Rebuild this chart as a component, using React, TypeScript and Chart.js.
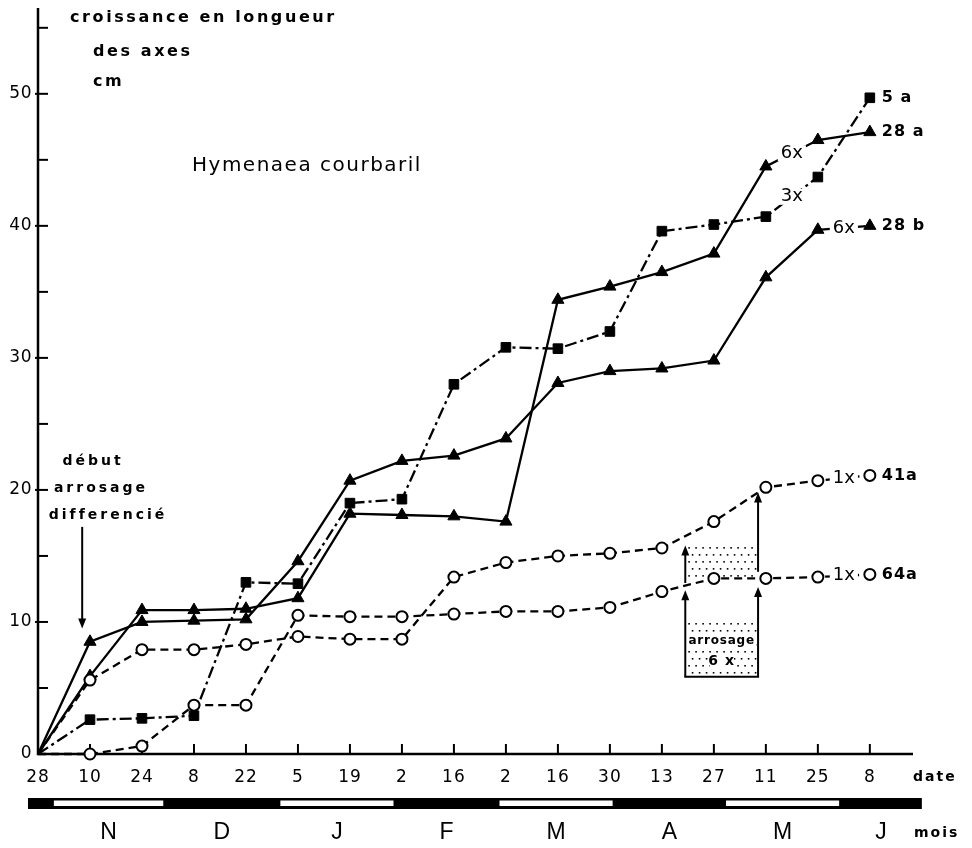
import React, { useEffect, useRef } from 'react';
import { Chart, registerables } from 'chart.js';

Chart.register(...registerables);

// ---------- data ----------
const dateLabels = ['28', '10', '24', '8', '22', '5', '19', '2', '16', '2', '16', '30', '13', '27', '11', '25', '8'];
const yTickValues = [0, 5, 10, 15, 20, 25, 30, 35, 40, 45, 50, 55];
const yLabelValues = [0, 10, 20, 30, 40, 50];

const series5a = [0, 2.6, 2.7, 2.9, 13.0, 12.9, 19.0, 19.3, 28.0, 30.8, 30.7, 32.0, 39.6, 40.1, 40.7, 43.7, 49.7];
const series28a = [0, 5.9, 10.9, 10.9, 11.0, 11.8, 18.2, 18.1, 18.0, 17.6, 34.4, 35.4, 36.5, 37.9, 44.5, 46.5, 47.1];
const series28b = [0, 8.5, 10.0, 10.1, 10.2, 14.6, 20.7, 22.2, 22.6, 23.9, 28.1, 29.0, 29.2, 29.8, 36.1, 39.7, 40.0];
const series41a = [0, 5.6, 7.9, 7.9, 8.3, 8.9, 8.7, 8.7, 13.4, 14.5, 15.0, 15.2, 15.6, 17.6, 20.2, 20.7, 21.1];
const series64a = [0, 0, 0.6, 3.7, 3.7, 10.5, 10.4, 10.4, 10.6, 10.8, 10.8, 11.1, 12.3, 13.3, 13.3, 13.4, 13.6];

const seriesNames = ['5a', '28a', '28b', '41a', '64a'];
const seriesEndLabels = ['5 a', '28 a', '28 b', '41a', '64a'];
const seriesValues = [series5a, series28a, series28b, series41a, series64a];

// watering-frequency notes placed on the segment after point index `from`
const noteSeries = ['28a', '5a', '28b', '41a', '64a'];
const noteFrom = [14, 14, 15, 15, 15];
const noteText = ['6x', '3x', '6x', '1x', '1x'];

const monthLetters = ['N', 'D', 'J', 'F', 'M', 'A', 'M', 'J'];
const monthStartDays = [4, 34, 65, 96, 124, 155, 185, 216];
const barStartDay = -2.7;
const barEndDay = 238;
const daysPerStep = 14;

// irrigation annotation (x in step units, y in cm)
const irrigationX = [12.45, 13.85];
const irrigationUpperBand = [13.0, 15.9];
const irrigationLowerBand = [5.85, 10.15];
const irrigationArrowsLeft = [[5.85, 12.4], [12.95, 15.8]];
const irrigationArrowsRight = [[5.85, 12.65], [13.8, 19.8]];

const startArrowX = 0.85;
const startArrowY = [17.2, 9.5];

const FONT = "'DejaVu Sans', sans-serif";

function drawArrow(ctx: CanvasRenderingContext2D, x: number, yFrom: number, yTo: number) {
  const head = 10;
  const hw = 4;
  const dir = yTo < yFrom ? 1 : -1;
  ctx.beginPath();
  ctx.moveTo(x, yFrom);
  ctx.lineTo(x, yTo + dir * head * 0.8);
  ctx.stroke();
  ctx.beginPath();
  ctx.moveTo(x, yTo);
  ctx.lineTo(x - hw, yTo + dir * head);
  ctx.lineTo(x + hw, yTo + dir * head);
  ctx.closePath();
  ctx.fill();
}

function drawDots(ctx: CanvasRenderingContext2D, x1: number, x2: number, y1: number, y2: number) {
  let row = 0;
  for (let y = y1 + 3; y < y2 - 1; y += 7, row++) {
    for (let x = x1 + 3 + (row % 2) * 3.5; x < x2 - 1; x += 7) {
      ctx.fillRect(x, y, 1.6, 1.6);
    }
  }
}

function spacedText(ctx: CanvasRenderingContext2D, text: string, x: number, y: number, font: string, spacing: number, align: CanvasTextAlign = 'left') {
  ctx.save();
  ctx.font = font;
  (ctx as any).letterSpacing = spacing + 'px';
  ctx.textAlign = align;
  ctx.textBaseline = 'middle';
  ctx.fillText(text, x, y);
  ctx.restore();
}

const customPlugin = {
  id: 'customDraw',
  beforeDatasetsDraw(chart: any) {
    const ctx: CanvasRenderingContext2D = chart.ctx;
    const xs = chart.scales.x;
    const ys = chart.scales.y;
    const { left, right, top, bottom } = chart.chartArea;
    ctx.save();
    ctx.fillStyle = '#000';
    ctx.strokeStyle = '#000';
    // axes
    ctx.lineWidth = 2.5;
    ctx.beginPath();
    ctx.moveTo(left, top);
    ctx.lineTo(left, bottom);
    ctx.lineTo(right, bottom);
    ctx.stroke();
    // y ticks
    ctx.lineWidth = 2;
    yTickValues.forEach((v) => {
      const y = ys.getPixelForValue(v);
      ctx.beginPath();
      ctx.moveTo(left - (v % 10 === 0 && v > 0 ? 3 : 0), y);
      ctx.lineTo(left + 10, y);
      ctx.stroke();
    });
    yLabelValues.forEach((v) => {
      spacedText(ctx, String(v), left - 6, ys.getPixelForValue(v), `500 17px ${FONT}`, 0.5, 'right');
    });
    // x ticks + labels
    dateLabels.forEach((lab, i) => {
      const x = xs.getPixelForValue(i);
      if (i > 0) {
        ctx.beginPath();
        ctx.moveTo(x, bottom);
        ctx.lineTo(x, bottom - 10);
        ctx.stroke();
      }
      spacedText(ctx, lab, x, bottom + 24, `500 17px ${FONT}`, 1, 'center');
    });
    spacedText(ctx, 'date', right, bottom + 23, `bold 14px ${FONT}`, 2, 'left');

    // month bar
    const dayX = (d: number) => xs.getPixelForValue(d / daysPerStep);
    const barTop = bottom + 44;
    ctx.fillRect(dayX(barStartDay), barTop, dayX(barEndDay) - dayX(barStartDay), 11);
    ctx.fillStyle = '#fff';
    monthStartDays.forEach((d, i) => {
      if (i % 2 === 0) {
        const end = i + 1 < monthStartDays.length ? monthStartDays[i + 1] : barEndDay;
        ctx.fillRect(dayX(d) + 1, barTop + 2.5, dayX(end) - dayX(d) - 2, 5.5);
      }
    });
    ctx.fillStyle = '#000';
    monthLetters.forEach((m, i) => {
      const end = i + 1 < monthStartDays.length ? monthStartDays[i + 1] : barEndDay;
      const cx = (dayX(monthStartDays[i]) + dayX(end)) / 2;
      spacedText(ctx, m, cx, bottom + 79, `23px 'Liberation Sans', sans-serif`, 0, 'center');
    });
    spacedText(ctx, 'mois', right + 1, bottom + 79, `bold 14px ${FONT}`, 2, 'left');

    // titles
    spacedText(ctx, 'croissance en longueur', 70, 18, `bold 16px ${FONT}`, 2.6, 'left');
    spacedText(ctx, 'des axes', 93, 52, `bold 16px ${FONT}`, 2.6, 'left');
    spacedText(ctx, 'cm', 93, 82, `bold 16px ${FONT}`, 2.6, 'left');
    spacedText(ctx, 'Hymenaea courbaril', 192, 166, `20px ${FONT}`, 1.5, 'left');

    // start of differential watering
    spacedText(ctx, 'début', 93, 461, `bold 14px ${FONT}`, 3, 'center');
    spacedText(ctx, 'arrosage', 101, 488, `bold 14px ${FONT}`, 3, 'center');
    spacedText(ctx, 'differencié', 108, 515, `bold 14px ${FONT}`, 3, 'center');
    ctx.lineWidth = 2;
    drawArrow(ctx, xs.getPixelForValue(startArrowX), ys.getPixelForValue(startArrowY[0]), ys.getPixelForValue(startArrowY[1]));

    // irrigation dotted bands
    const ix1 = xs.getPixelForValue(irrigationX[0]);
    const ix2 = xs.getPixelForValue(irrigationX[1]);
    drawDots(ctx, ix1, ix2, ys.getPixelForValue(irrigationUpperBand[1]), ys.getPixelForValue(irrigationUpperBand[0]));
    drawDots(ctx, ix1, ix2, ys.getPixelForValue(irrigationLowerBand[1]), ys.getPixelForValue(irrigationLowerBand[0]));
    ctx.restore();
  },
  afterDatasetsDraw(chart: any) {
    const ctx: CanvasRenderingContext2D = chart.ctx;
    const xs = chart.scales.x;
    const ys = chart.scales.y;
    ctx.save();
    ctx.fillStyle = '#000';
    ctx.strokeStyle = '#000';

    // notes on segments
    noteSeries.forEach((name, k) => {
      const vals = seriesValues[seriesNames.indexOf(name)];
      const i = noteFrom[k];
      const x = (xs.getPixelForValue(i) + xs.getPixelForValue(i + 1)) / 2;
      const y = (ys.getPixelForValue(vals[i]) + ys.getPixelForValue(vals[i + 1])) / 2;
      ctx.font = `500 18px ${FONT}`;
      const w = ctx.measureText(noteText[k]).width;
      ctx.fillStyle = '#fff';
      ctx.fillRect(x - w / 2 - 3, y - 8, w + 6, 16);
      ctx.fillStyle = '#000';
      spacedText(ctx, noteText[k], x, y, `500 18px ${FONT}`, 0, 'center');
    });

    // end labels
    seriesNames.forEach((_, k) => {
      const vals = seriesValues[k];
      const last = vals.length - 1;
      const x = xs.getPixelForValue(last) + 12;
      const y = ys.getPixelForValue(vals[last]);
      spacedText(ctx, seriesEndLabels[k], x, y, `bold 16px ${FONT}`, 1, 'left');
    });

    // irrigation arrows and box
    const ix1 = xs.getPixelForValue(irrigationX[0]);
    const ix2 = xs.getPixelForValue(irrigationX[1]);
    ctx.lineWidth = 2;
    irrigationArrowsLeft.forEach(([a, b]) => drawArrow(ctx, ix1, ys.getPixelForValue(a), ys.getPixelForValue(b)));
    irrigationArrowsRight.forEach(([a, b]) => drawArrow(ctx, ix2, ys.getPixelForValue(a), ys.getPixelForValue(b)));
    const yb = ys.getPixelForValue(irrigationLowerBand[0]);
    ctx.beginPath();
    ctx.moveTo(ix1 - 1, yb);
    ctx.lineTo(ix2 + 1, yb);
    ctx.stroke();
    const cx = (ix1 + ix2) / 2;
    const ty = ys.getPixelForValue(8.6);
    ctx.fillStyle = '#fff';
    ctx.fillRect(ix1 + 2, ty - 8, ix2 - ix1 - 4, 15);
    ctx.fillStyle = '#000';
    spacedText(ctx, 'arrosage', cx, ty, `bold 12px ${FONT}`, 0.8, 'center');
    const ty2 = ys.getPixelForValue(7.0);
    ctx.fillStyle = '#fff';
    ctx.fillRect(cx - 12, ty2 - 8, 24, 15);
    ctx.fillStyle = '#000';
    spacedText(ctx, '6 x', cx, ty2, `bold 14px ${FONT}`, 1, 'center');
    ctx.restore();
  },
};

function makeDataset(vals: number[], style: string, filled: boolean, radius: number, dash: number[]) {
  return {
    data: vals.map((v, i) => ({ x: i, y: v })),
    borderColor: '#000',
    borderWidth: 2.3,
    borderDash: dash,
    pointStyle: style,
    pointRadius: vals.map((_, i) => (i === 0 ? 0 : radius)),
    pointBackgroundColor: filled ? '#000' : '#fff',
    pointBorderColor: '#000',
    pointBorderWidth: filled ? 1 : 2,
    clip: false as any,
    tension: 0,
    fill: false,
  };
}

export default function App() {
  const ref = useRef<HTMLCanvasElement | null>(null);
  useEffect(() => {
    document.body.style.margin = '0';
    if (!ref.current) return;
    const chart = new Chart(ref.current, {
      type: 'line',
      data: {
        datasets: [
          makeDataset(series41a, 'circle', false, 5.5, [8, 5]),
          makeDataset(series64a, 'circle', false, 5.5, [8, 5]),
          makeDataset(series5a, 'rect', true, 6.8, [12, 4, 3, 4]),
          makeDataset(series28a, 'triangle', true, 7, []),
          makeDataset(series28b, 'triangle', true, 7, []),
        ] as any,
      },
      options: {
        animation: false,
        responsive: false,
        devicePixelRatio: 1,
        layout: { padding: { left: 38, right: 59, top: 8, bottom: 94 } },
        plugins: { legend: { display: false }, tooltip: { enabled: false } },
        scales: {
          x: { type: 'linear', min: 0, max: 16.83, display: false },
          y: { type: 'linear', min: 0, max: 56.5, display: false },
        },
      },
      plugins: [customPlugin],
    });
    return () => chart.destroy();
  }, []);
  return (
    <div style={{ width: 972, height: 848, background: '#fff' }}>
      <canvas ref={ref} width={972} height={848} style={{ display: 'block' }} />
    </div>
  );
}
